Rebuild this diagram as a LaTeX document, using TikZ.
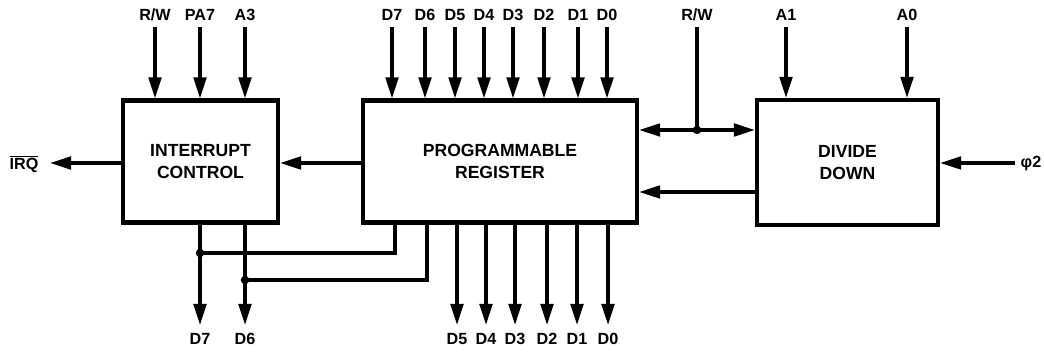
\documentclass[tikz,border=0pt]{standalone}
\usepackage{fontspec}
\setmainfont{Liberation Sans}
\usetikzlibrary{arrows.meta}
\begin{document}
\begin{tikzpicture}[x=0.025cm,y=-0.025cm,
 blk/.style={draw, line width=3pt, align=center, font=\fontsize{12.5}{15.5}\selectfont\bfseries, inner sep=0},
 arr/.style={line width=2.3pt, -{Triangle[length=15pt,width=9pt]}},
 wire/.style={line width=2.3pt},
 lab/.style={font=\fontsize{11.5}{12}\selectfont\bfseries, inner sep=0},
 dot/.style={circle, fill, inner sep=0, minimum size=6pt}]
\useasboundingbox (0,0) rectangle (1044,352);
% blocks
\node[blk, minimum width=3.875cm, minimum height=3.05cm] (ic) at (200.5,161.5) {INTERRUPT\\CONTROL};
\node[blk, minimum width=6.85cm, minimum height=3.05cm] (pr) at (500,161.5) {PROGRAMMABLE\\REGISTER};
\node[blk, minimum width=4.525cm, minimum height=3.125cm] (dd) at (847.5,162.5) {DIVIDE\\DOWN};
% interrupt control inputs
\foreach \x/\t/\n in {155/R\slash W/irw, 200/PA7/ipa, 245/A3/ia3}{
  \node[lab] (l\n) at (\x,15) {\t};
  \coordinate (s\n) at (\x,27);
  \draw[arr] (s\n) -- (s\n |- ic.north);
}
% IRQ
\coordinate (irqend) at (50,163);
\draw[arr] (ic.west |- irqend) -- (irqend);
\node[lab] (lirq) at (24,164) {$\overline{\mbox{\bfseries IRQ}}$};
% PR -> IC
\draw[arr] (pr.west |- irqend) -- (ic.east |- irqend);
% PR inputs
\foreach \x/\t/\n in {392/D7/p7, 425/D6/p6, 455/D5/p5, 484/D4/p4, 513/D3/p3, 544/D2/p2, 578/D1/p1, 607/D0/p0}{
  \node[lab] (l\n) at (\x,15) {\t};
  \coordinate (s\n) at (\x,27);
  \draw[arr] (s\n) -- (s\n |- pr.north);
}
% PR outputs
\foreach \x/\t/\n in {457/D5/q5, 486/D4/q4, 515/D3/q3, 547/D2/q2, 577/D1/q1, 608/D0/q0}{
  \coordinate (e\n) at (\x,325);
  \draw[arr] (e\n |- pr.south) -- (e\n);
  \node[lab] (l\n) at (\x,339) {\t};
}
% IC outputs D7, D6
\coordinate (e7) at (200,325);
\coordinate (e6) at (245,325);
\draw[arr] (e7 |- ic.south) -- (e7);
\draw[arr] (e6 |- ic.south) -- (e6);
\node[lab] (lq7) at (200,339) {D7};
\node[lab] (lq6) at (245,339) {D6};
% taps from PR bottom
\coordinate (j7) at (200,253);
\coordinate (j6) at (245,280);
\coordinate (t7) at (395,253);
\coordinate (t6) at (427,280);
\draw[wire] (t7 |- pr.south) -- (t7) -- (j7);
\draw[wire] (t6 |- pr.south) -- (t6) -- (j6);
\node[dot] (d7) at (j7) {};
\node[dot] (d6) at (j6) {};
% R/W right
\node[lab] (lrw2) at (697,15) {R\slash W};
\coordinate (srw2) at (697,27);
\coordinate (jrw) at (697,130);
\draw[wire] (srw2) -- (jrw);
\node[dot] (drw) at (jrw) {};
\draw[arr] (jrw) -- (pr.east |- jrw);
\draw[arr] (jrw) -- (dd.west |- jrw);
% DD -> PR
\coordinate (yb) at (700,192);
\draw[arr] (dd.west |- yb) -- (pr.east |- yb);
% A1, A0
\foreach \x/\t/\n in {786/A1/a1, 907/A0/a0}{
  \node[lab] (l\n) at (\x,15) {\t};
  \coordinate (s\n) at (\x,27);
  \draw[arr] (s\n) -- (s\n |- dd.north);
}
% phi2
\coordinate (sphi) at (1015,163);
\draw[arr] (sphi) -- (dd.east |- sphi);
\node[lab] (lphi) at (1031,164) {φ2};
\end{tikzpicture}
\end{document}
